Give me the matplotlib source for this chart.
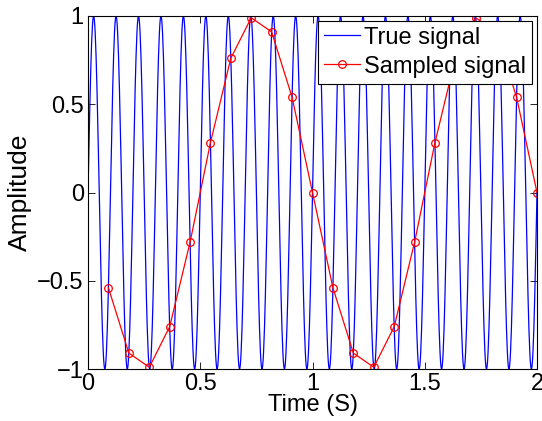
import numpy as np
import matplotlib
matplotlib.use('Agg')
import matplotlib.pyplot as plt

# sampled points
sample_t = [0.091, 0.182, 0.273, 0.364, 0.455, 0.545, 0.636, 0.727, 0.818, 0.909, 1.0,
            1.091, 1.182, 1.273, 1.364, 1.455, 1.545, 1.636, 1.727, 1.818, 1.909, 2.0]
sample_y = [-0.54, -0.91, -0.99, -0.76, -0.28, 0.28, 0.76, 0.99, 0.91, 0.54, 0.0,
            -0.54, -0.91, -0.99, -0.76, -0.28, 0.28, 0.76, 0.99, 0.91, 0.54, 0.0]

# true signal: 10 Hz sine over 0..2 s
true_freq = 10
true_t = np.arange(0, 2.0001, 0.002)
true_y = np.sin(2 * np.pi * true_freq * true_t)

x_ticks = [0, 0.5, 1, 1.5, 2]
x_ticklabels = ['0', '0.5', '1', '1.5', '2']
y_ticks = [-1, -0.5, 0, 0.5, 1]
y_ticklabels = ['\u22121', '\u22120.5', '0', '0.5', '1']

plt.rcParams['font.family'] = ['Liberation Sans', 'DejaVu Sans']
plt.rcParams['font.size'] = 17

fig = plt.figure(figsize=(5.42, 4.21), dpi=100)
ax = fig.add_axes([88 / 542, 1 - 369 / 421, (537 - 88) / 542, (369 - 16) / 421])

ax.plot(true_t, true_y, color='blue', lw=0.9, label='True signal')
ax.plot(sample_t, sample_y, color='red', lw=0.9, marker='o', ms=5.5,
        mfc='none', mec='red', mew=0.9, label='Sampled signal')

ax.set_xlim(0, 2)
ax.set_ylim(-1, 1)
ax.set_xticks(x_ticks)
ax.set_xticklabels(x_ticklabels)
ax.set_yticks(y_ticks)
ax.set_yticklabels(y_ticklabels)
ax.tick_params(direction='in', top=True, right=True, length=5, width=0.6, pad=3,
               labelsize=17)
for s in ax.spines.values():
    s.set_linewidth(0.8)

ax.set_xlabel('Time (S)', fontsize=17, labelpad=-1)
ax.set_ylabel('Amplitude', fontsize=19, labelpad=4)

leg = ax.legend(loc='upper right', fancybox=False, framealpha=1, edgecolor='black',
                borderaxespad=0.2, handlelength=1.5, handletextpad=0.2,
                borderpad=0.25, labelspacing=0.3, fontsize=17)
leg.get_frame().set_linewidth(0.8)

fig.savefig('out.png', dpi=100)
